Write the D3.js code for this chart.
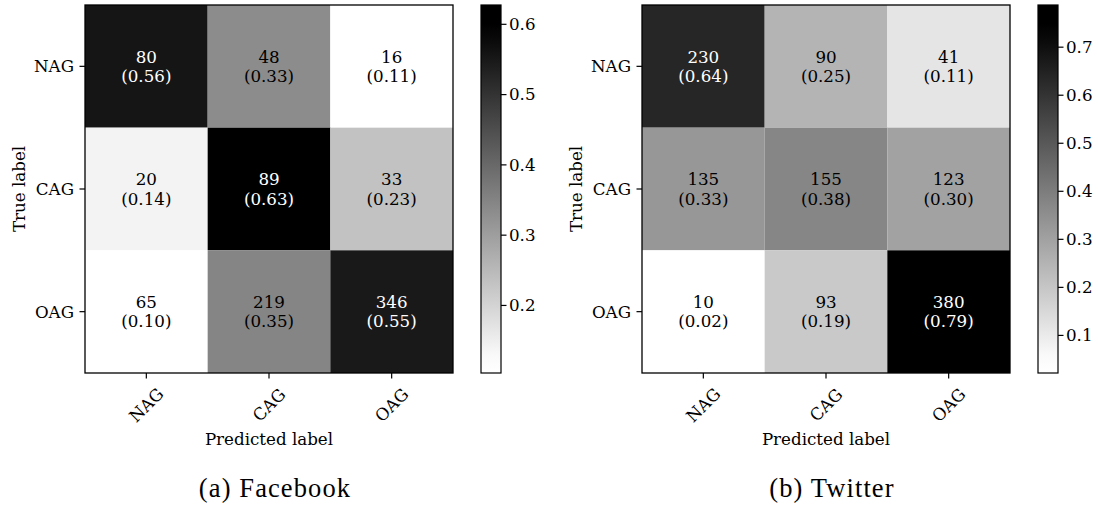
<!DOCTYPE html>
<html>
<head>
<meta charset="utf-8">
<script src="https://cdn.jsdelivr.net/npm/d3@7/dist/d3.min.js"></script>
<style>
  html, body { margin: 0; padding: 0; background: #fff; }
  svg { display: block; }
</style>
</head>
<body>
<svg id="chart" width="1098" height="506"></svg>
<script>
// Class labels shared by both matrices
const classes = ["NAG", "CAG", "OAG"];

// Confusion-matrix counts, rows = true label, columns = predicted label
const facebookCounts = [
  [80, 48, 16],
  [20, 89, 33],
  [65, 219, 346]
];
const twitterCounts = [
  [230, 90, 41],
  [135, 155, 123],
  [10, 93, 380]
];

// Colorbar tick values
const facebookTicks = [0.2, 0.3, 0.4, 0.5, 0.6];
const twitterTicks = [0.1, 0.2, 0.3, 0.4, 0.5, 0.6, 0.7];

// Panel captions
const captions = ["(a) Facebook", "(b) Twitter"];

const MPL_FONT = "'DejaVu Serif'";
const CAPTION_FONT = "'Liberation Serif'";
const FONT = 16.7;
const TICK = 5.5;

const svg = d3.select("#chart");
svg.append("rect").attr("width", 1098).attr("height", 506).attr("fill", "#fff");
const defs = svg.append("defs");

function styleText(sel, size) {
  return sel.style("font-family", MPL_FONT).style("font-size", size + "px").attr("fill", "#000");
}

function drawPanel(counts, ticks, caption, offsetX, id) {
  const g = svg.append("g").attr("transform", `translate(${offsetX},0)`);

  // Row-normalised rates
  const rates = counts.map(row => {
    const s = d3.sum(row);
    return row.map(v => v / s);
  });
  const flat = rates.flat();
  const vmin = d3.min(flat), vmax = d3.max(flat);
  const span = vmax - vmin;
  const thresh = (vmin + vmax) / 2;

  const left = 85, right = 453, top = 5, bottom = 373;
  const x = d3.scaleBand().domain(classes).range([left, right]).padding(0);
  const y = d3.scaleBand().domain(classes).range([top, bottom]).padding(0);
  // Reversed grey ramp with a slight contrast boost
  const color = d3.scaleLinear()
    .domain([vmin + 0.03 * span, vmax - 0.06 * span])
    .range(["#ffffff", "#000000"])
    .clamp(true);

  const cells = [];
  classes.forEach((tr, i) => classes.forEach((pr, j) => {
    cells.push({ tr, pr, count: counts[i][j], rate: rates[i][j] });
  }));

  // Heatmap cells
  g.selectAll("rect.cell").data(cells).join("rect")
    .attr("class", "cell")
    .attr("x", d => x(d.pr))
    .attr("y", d => y(d.tr))
    .attr("width", x.bandwidth())
    .attr("height", y.bandwidth())
    .attr("fill", d => color(d.rate));

  // Cell annotations: count and rate
  const labels = g.selectAll("text.val").data(cells).join("text")
    .attr("class", "val")
    .attr("text-anchor", "middle")
    .style("font-family", MPL_FONT)
    .style("font-size", FONT + "px")
    .attr("fill", d => d.rate >= thresh ? "#ffffff" : "#000000");
  labels.append("tspan")
    .attr("x", d => x(d.pr) + x.bandwidth() / 2)
    .attr("y", d => y(d.tr) + y.bandwidth() / 2 - 3.8)
    .text(d => d.count);
  labels.append("tspan")
    .attr("x", d => x(d.pr) + x.bandwidth() / 2)
    .attr("y", d => y(d.tr) + y.bandwidth() / 2 + 15.8)
    .text(d => `(${d.rate.toFixed(2)})`);

  // Frame
  g.append("rect")
    .attr("x", left).attr("y", top)
    .attr("width", right - left).attr("height", bottom - top)
    .attr("fill", "none").attr("stroke", "#000").attr("stroke-width", 1.3);

  // Y axis
  const yAxis = g.append("g").attr("transform", `translate(${left},0)`)
    .call(d3.axisLeft(y).tickSize(TICK).tickPadding(5.5));
  yAxis.select(".domain").remove();
  yAxis.selectAll("line").attr("stroke", "#000").attr("stroke-width", 1.2);
  styleText(yAxis.selectAll("text"), FONT).attr("dy", "0.35em");

  // X axis with rotated labels
  const xAxis = g.append("g").attr("transform", `translate(0,${bottom})`)
    .call(d3.axisBottom(x).tickSize(TICK));
  xAxis.select(".domain").remove();
  xAxis.selectAll("line").attr("stroke", "#000").attr("stroke-width", 1.2);
  styleText(xAxis.selectAll("text"), FONT)
    .attr("text-anchor", "middle")
    .attr("dy", "0.35em")
    .attr("y", 32)
    .attr("transform", "rotate(-45,0,32)");

  // Axis titles
  styleText(g.append("text"), FONT)
    .attr("transform", `translate(24.5,${(top + bottom) / 2}) rotate(-90)`)
    .attr("text-anchor", "middle")
    .text("True label");
  styleText(g.append("text"), FONT)
    .attr("x", (left + right) / 2).attr("y", 445)
    .attr("text-anchor", "middle")
    .text("Predicted label");

  // Colorbar
  const cbX = 481, cbW = 20;
  const cb = d3.scaleLinear().domain([vmin, vmax]).range([bottom, top]);
  const stops = d3.range(0, 1.0001, 0.05).map(f => vmin + f * span);
  const grad = defs.append("linearGradient")
    .attr("id", id).attr("x1", 0).attr("y1", 1).attr("x2", 0).attr("y2", 0);
  grad.selectAll("stop").data(stops).join("stop")
    .attr("offset", d => (d - vmin) / span)
    .attr("stop-color", d => color(d));
  g.append("rect")
    .attr("x", cbX).attr("y", top).attr("width", cbW).attr("height", bottom - top)
    .attr("fill", `url(#${id})`)
    .attr("stroke", "#000").attr("stroke-width", 1.2);
  const cbAxis = g.append("g").attr("transform", `translate(${cbX + cbW},0)`)
    .call(d3.axisRight(cb).tickValues(ticks).tickSize(TICK).tickPadding(2.5)
      .tickFormat(d3.format(".1f")));
  cbAxis.select(".domain").remove();
  cbAxis.selectAll("line").attr("stroke", "#000").attr("stroke-width", 1.2);
  styleText(cbAxis.selectAll("text"), FONT).attr("dy", "0.35em");

  // Caption
  svg.append("text")
    .attr("x", offsetX + 275).attr("y", 497)
    .attr("text-anchor", "middle")
    .style("font-family", CAPTION_FONT)
    .style("font-size", "26.5px")
    .style("letter-spacing", "1.1px")
    .attr("fill", "#000")
    .text(caption);
}

drawPanel(facebookCounts, facebookTicks, captions[0], 0, "cbFacebook");
drawPanel(twitterCounts, twitterTicks, captions[1], 557, "cbTwitter");
</script>
</body>
</html>
